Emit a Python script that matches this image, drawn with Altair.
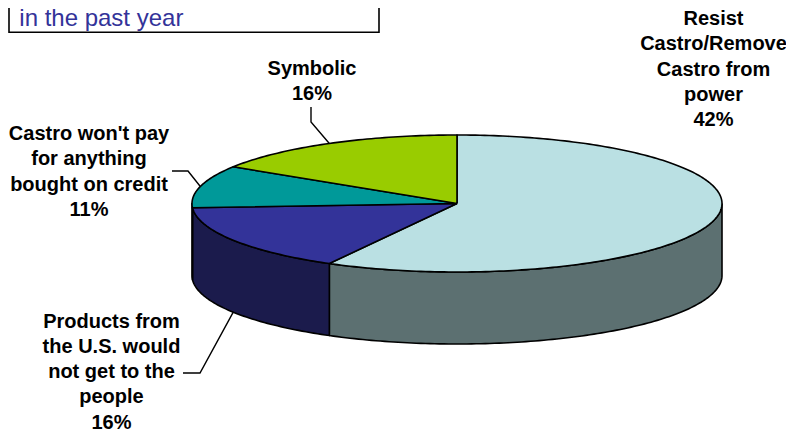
import math
import altair as alt
import pandas as pd

# ---------------- data ----------------
categories = [
    "Resist Castro/Remove Castro from power",
    "Products from the U.S. would not get to the people",
    "Castro won't pay for anything bought on credit",
    "Symbolic",
]
label_lines = [
    ["Resist", "Castro/Remove", "Castro from", "power"],
    ["Products from", "the U.S. would", "not get to the", "people"],
    ["Castro won't pay", "for anything", "bought on credit"],
    ["Symbolic"],
]
label_pcts = ["42%", "16%", "11%", "16%"]
# slice sizes as drawn in the picture (share of the full circle)
slice_shares = [58, 16, 10, 16]
top_colors = ["#BAE0E3", "#333399", "#009999", "#99CC00"]
side_colors = ["#5C7071", "#1B1B4C", "#004C4C", "#4C6600"]
title_text = "in the past year"

# ---------------- layout ----------------
CX, CY, RX, RY, DEPTH = 457, 203.5, 265, 68.5, 72
LINE_H = 25.3
label_pos = [(713.5, 25), (111.5, 327.5), (89, 140), (312, 75)]
# leader: (start, elbow) positions; the end is computed on the slice edge
leader_layout = [None, [(183, 373), (200, 373)], [(172, 171), (188, 171)], [(311, 107), (311, 122)]]


def pt(t_deg, drop=0.0):
    t = math.radians(t_deg)
    return CX + RX * math.sin(t), CY - RY * math.cos(t) + drop


total = float(sum(slice_shares))
bounds = []
acc = 0.0
for s in slice_shares:
    a0 = acc / total * 360.0
    acc += s
    a1 = acc / total * 360.0
    bounds.append((a0, a1))


def arc(a0, a1, drop=0.0, step=1.0):
    n = max(2, int(math.ceil((a1 - a0) / step)) + 1)
    return [pt(a0 + (a1 - a0) * k / (n - 1), drop) for k in range(n)]


side_rows, top_rows = [], []
for i, (a0, a1) in enumerate(bounds):
    key_top = categories[i]
    key_side = categories[i] + " (side)"
    # top face
    pts = [(CX, CY)] + arc(a0, a1) + [(CX, CY)]
    for j, (x, y) in enumerate(pts):
        top_rows.append({"key": key_top, "i": j, "x": x, "y": y})
    # visible front wall
    fa, fb = max(a0, 90.0), min(a1, 270.0)
    if fb > fa:
        upper = arc(fa, fb)
        lower = arc(fa, fb, DEPTH)[::-1]
        pts = upper + lower + [upper[0]]
        for j, (x, y) in enumerate(pts):
            side_rows.append({"key": key_side, "i": j, "x": x, "y": y})

sides = pd.DataFrame(side_rows)
tops = pd.DataFrame(top_rows)

leader_rows = []
for i, lay in enumerate(leader_layout):
    if lay is None:
        continue
    a0, a1 = bounds[i]
    mid = (a0 + a1) / 2.0
    front = 90.0 < mid < 270.0
    end = pt(mid, DEPTH if front else 0.0)
    for j, (x, y) in enumerate(lay + [end]):
        leader_rows.append({"key": categories[i], "i": j, "x": x, "y": y})
leaders = pd.DataFrame(leader_rows)

labels = pd.DataFrame({
    "key": categories,
    "text": ["\n".join(l + [p]) for l, p in zip(label_lines, label_pcts)],
    "x": [p[0] for p in label_pos],
    "y": [p[1] for p in label_pos],
})

xs = alt.Scale(domain=[8, 786], nice=False, zero=False)
ys = alt.Scale(domain=[8, 433], reverse=True, nice=False, zero=False)
X = alt.X("x:Q", scale=xs, axis=None)
Y = alt.Y("y:Q", scale=ys, axis=None)

color_domain = [c + " (side)" for c in categories] + categories
color_range = side_colors + top_colors
color = alt.Color("key:N", scale=alt.Scale(domain=color_domain, range=color_range), legend=None)

side_layer = alt.Chart(sides).mark_line(
    filled=True, stroke="black", strokeWidth=1.6, strokeJoin="round"
).encode(x=X, y=Y, color=color, detail="key:N", order="i:Q")

top_layer = alt.Chart(tops).mark_line(
    filled=True, stroke="black", strokeWidth=1.6, strokeJoin="round"
).encode(x=X, y=Y, color=color, detail="key:N", order="i:Q")

leader_layer = alt.Chart(leaders).mark_line(
    color="black", strokeWidth=1.4
).encode(x=X, y=Y, detail="key:N", order="i:Q")

label_layer = alt.Chart(labels).mark_text(
    font="Liberation Sans", fontWeight="bold", fontSize=20, lineHeight=LINE_H,
    align="center", baseline="alphabetic", color="black", lineBreak="\n"
).encode(x=X, y=Y, text="text:N")

box = pd.DataFrame({"x": [9], "x2": [379], "y": [-40], "y2": [32.3]})
box_layer = alt.Chart(box).mark_rect(
    fillOpacity=0, stroke="black", strokeWidth=1.6
).encode(x=X, x2="x2:Q", y=Y, y2="y2:Q")

title_df = pd.DataFrame({"x": [19.3], "y": [25.5], "text": [title_text]})
title_layer = alt.Chart(title_df).mark_text(
    font="Liberation Sans", fontSize=24, align="left", baseline="alphabetic", color="#333399"
).encode(x=X, y=Y, text="text:N")

chart = alt.layer(
    side_layer, top_layer, leader_layer, label_layer, box_layer, title_layer
).properties(
    width=778, height=425, autosize="none", padding=0
).configure_view(stroke=None)

chart.save("out.html", embed_options={"renderer": "svg", "actions": False})
